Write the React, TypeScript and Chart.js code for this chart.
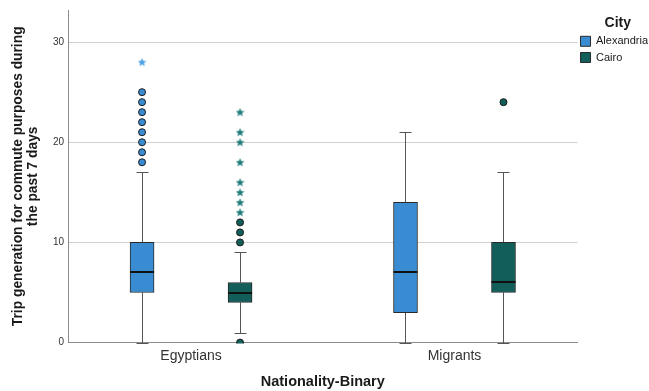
import React, { useEffect, useRef } from 'react';
import { Chart, registerables } from 'chart.js';
Chart.register(...registerables);

// ---- data ----
const groups = ['Egyptians', 'Migrants'];
const cities = ['Alexandria', 'Cairo'];

const alexandriaMin = [0, 0];
const alexandriaQ1 = [5, 3];
const alexandriaMedian = [7, 7];
const alexandriaQ3 = [10, 14];
const alexandriaMax = [17, 21];
const alexandriaOutliers = [[18, 19, 20, 21, 22, 23, 24, 25], []];
const alexandriaExtremes = [[28], []];

const cairoMin = [1, 0];
const cairoQ1 = [4, 5];
const cairoMedian = [5, 6];
const cairoQ3 = [6, 10];
const cairoMax = [9, 17];
const cairoOutliers = [[0, 10, 11, 12], [24]];
const cairoExtremes = [[13, 14, 15, 16, 18, 20, 21, 23], []];

const yTickValues = [0, 10, 20, 30];

// ---- styling / layout constants ----
const FONT = '"Liberation Sans", Arial, sans-serif';
const cityFill = ['#3a8cd2', '#125e5a'];
const cityStar = ['#4aa0e2', '#1f7c79'];
const cityOffset = [-0.186, 0.186];
const BOX_W = 24;

const stats = [
  { min: alexandriaMin, q1: alexandriaQ1, med: alexandriaMedian, q3: alexandriaQ3, max: alexandriaMax, out: alexandriaOutliers, ext: alexandriaExtremes },
  { min: cairoMin, q1: cairoQ1, med: cairoMedian, q3: cairoQ3, max: cairoMax, out: cairoOutliers, ext: cairoExtremes },
];

function makeStar(color: string, size = 9) {
  const c = document.createElement('canvas');
  c.width = size;
  c.height = size;
  const g = c.getContext('2d')!;
  const cx = size / 2, cy = size / 2 + 0.3, R = size / 2, r = R * 0.45;
  g.beginPath();
  for (let i = 0; i < 10; i++) {
    const a = -Math.PI / 2 + (i * Math.PI) / 5;
    const rad = i % 2 === 0 ? R : r;
    g.lineTo(cx + rad * Math.cos(a), cy + rad * Math.sin(a));
  }
  g.closePath();
  g.fillStyle = color;
  g.fill();
  return c;
}

const boxPlugin = {
  id: 'boxWhiskers',
  beforeDatasetsDraw(chart: any) {
    const { ctx, scales } = chart;
    const x = scales.x, y = scales.y;
    ctx.save();
    ctx.strokeStyle = '#555555';
    ctx.lineWidth = 1;
    stats.forEach((s, c) => {
      s.min.forEach((_, g) => {
        const px = Math.round(x.getPixelForValue(g + cityOffset[c])) + 0.5;
        const yMin = Math.round(y.getPixelForValue(s.min[g])) + 0.5;
        const yQ1 = y.getPixelForValue(s.q1[g]);
        const yQ3 = y.getPixelForValue(s.q3[g]);
        const yMax = Math.round(y.getPixelForValue(s.max[g])) + 0.5;
        ctx.beginPath();
        ctx.moveTo(px, yMin); ctx.lineTo(px, yQ1);
        ctx.moveTo(px, yQ3); ctx.lineTo(px, yMax);
        ctx.moveTo(px - 6, yMin); ctx.lineTo(px + 6, yMin);
        ctx.moveTo(px - 6, yMax); ctx.lineTo(px + 6, yMax);
        ctx.stroke();
      });
    });
    ctx.restore();
  },
  afterDatasetsDraw(chart: any) {
    const { ctx, scales } = chart;
    const x = scales.x, y = scales.y;
    ctx.save();
    ctx.strokeStyle = '#111111';
    ctx.lineWidth = 2;
    stats.forEach((s, c) => {
      s.med.forEach((m, g) => {
        const px = x.getPixelForValue(g + cityOffset[c]);
        const py = Math.round(y.getPixelForValue(m));
        ctx.beginPath();
        ctx.moveTo(px - BOX_W / 2, py);
        ctx.lineTo(px + BOX_W / 2, py);
        ctx.stroke();
      });
    });
    ctx.restore();
  },
};

export default function App() {
  const ref = useRef<HTMLCanvasElement>(null);
  useEffect(() => {
    document.body.style.margin = '0';
    const boxDatasets = cities.map((city, c) => ({
      type: 'bar' as const,
      label: city,
      data: groups.map((_, g) => ({ x: g + cityOffset[c], y: [stats[c].q1[g], stats[c].q3[g]] })),
      backgroundColor: cityFill[c],
      borderColor: '#2a2a2a',
      borderWidth: 1,
      borderSkipped: false,
      barThickness: BOX_W,
      grouped: false,
    }));
    const outlierDatasets = cities.map((city, c) => ({
      type: 'scatter' as const,
      label: city + ' outliers',
      data: groups.flatMap((_, g) => stats[c].out[g].map((v) => ({ x: g + cityOffset[c], y: v }))),
      backgroundColor: cityFill[c],
      borderColor: '#1a1a1a',
      pointRadius: 3.5,
      pointBorderWidth: 1,
      pointStyle: 'circle',
      clip: 1,
    }));
    const extremeDatasets = cities.map((city, c) => ({
      type: 'scatter' as const,
      label: city + ' extremes',
      data: groups.flatMap((_, g) => stats[c].ext[g].map((v) => ({ x: g + cityOffset[c], y: v }))),
      pointStyle: makeStar(cityStar[c]),
      pointRadius: 4,
    }));

    const defaultLabels = (Chart as any).defaults.plugins.legend.labels.generateLabels;

    const chart = new Chart(ref.current!, {
      type: 'bar',
      data: { datasets: [...boxDatasets, ...outlierDatasets, ...extremeDatasets] as any },
      plugins: [boxPlugin],
      options: {
        animation: false,
        responsive: true,
        maintainAspectRatio: false,
        events: [],
        layout: { padding: { left: 6, top: 10, right: -9, bottom: 0 } },
        plugins: {
          tooltip: { enabled: false },
          legend: {
            position: 'right',
            align: 'start',
            title: {
              display: true,
              text: 'City',
              color: '#1a1a1a',
              font: { family: FONT, size: 14, weight: 'bold' },
              padding: { top: 6, bottom: 0 },
            },
            labels: {
              generateLabels: (ch: any) =>
                defaultLabels(ch)
                  .filter((item: any) => item.datasetIndex < 2)
                  .map((item: any) => ({ ...item, text: [item.text] })),
              boxWidth: 10,
              boxHeight: 10,
              padding: 3,
              color: '#1a1a1a',
              font: { family: FONT, size: 11, lineHeight: 1.2 },
            },
          },
        },
        scales: {
          x: {
            type: 'linear',
            min: -0.467,
            max: 1.467,
            offset: false,
            afterBuildTicks: (axis: any) => {
              axis.ticks = groups.map((_, i) => ({ value: i }));
            },
            ticks: {
              callback: (v: any) => groups[v as number] ?? '',
              color: '#333333',
              font: { family: FONT, size: 14 },
              padding: 5,
              maxRotation: 0,
            },
            grid: { display: false, drawTicks: false },
            border: { display: true, color: '#8c8c8c', width: 1 },
            title: {
              display: true,
              text: 'Nationality-Binary',
              color: '#1a1a1a',
              font: { family: FONT, size: 14.5, weight: 'bold' },
              padding: { top: 4.2, bottom: 0 },
            },
          },
          y: {
            type: 'linear',
            min: 0,
            max: 33.2,
            afterBuildTicks: (axis: any) => {
              axis.ticks = yTickValues.map((v) => ({ value: v }));
            },
            ticks: {
              color: '#333333',
              font: { family: FONT, size: 10 },
              padding: 4,
            },
            grid: {
              drawTicks: false,
              color: (ctx: any) => (ctx.tick && ctx.tick.value === 0 ? 'rgba(0,0,0,0)' : '#d0d0d0'),
            },
            border: { display: true, color: '#8c8c8c', width: 1 },
            title: {
              display: true,
              text: ['Trip generation for commute purposes during', 'the past 7 days'],
              color: '#1a1a1a',
              font: { family: FONT, size: 13.8, weight: 'bold', lineHeight: 1.12 },
              padding: { top: 4, bottom: 8 },
            },
          },
        },
      } as any,
    });
    return () => chart.destroy();
  }, []);
  return (
    <div style={{ width: 649, height: 391, position: 'relative' }}>
      <canvas ref={ref} />
    </div>
  );
}
